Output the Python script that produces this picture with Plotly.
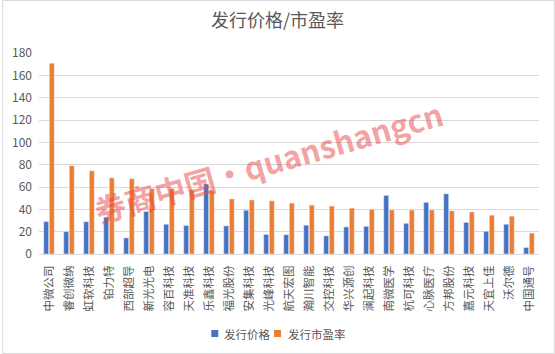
import plotly.graph_objects as go

categories = ["中微公司", "睿创微纳", "虹软科技", "铂力特", "西部超导", "新光光电", "容百科技",
              "天准科技", "乐鑫科技", "福光股份", "安集科技", "光峰科技", "航天宏图", "瀚川智能",
              "交控科技", "华兴源创", "澜起科技", "南微医学", "杭可科技", "心脉医疗", "方邦股份",
              "嘉元科技", "天宜上佳", "沃尔德", "中国通号"]
issue_price = [29.01, 20.0, 28.88, 33.0, 14.43, 38.09, 26.62, 25.5, 62.6, 25.22, 39.19, 17.5,
               17.25, 25.79, 16.23, 24.26, 24.8, 52.45, 27.43, 46.23, 53.88, 28.26, 20.32, 26.68, 5.85]
issue_pe = [170.75, 79.09, 74.48, 68.15, 67.4, 58.58, 58.6, 57.57, 56.6, 49.3, 48.4, 47.6,
            45.6, 43.8, 42.9, 41.1, 40.0, 39.4, 39.3, 39.4, 38.6, 37.6, 34.7, 33.9, 18.7]
y_ticks = [0, 20, 40, 60, 80, 100, 120, 140, 160, 180]
series_names = ["发行价格", "发行市盈率"]
series_colors = ["#4472C4", "#ED7D31"]

FONT = "Microsoft YaHei, Noto Sans CJK SC, sans-serif"
GRAY = "#595959"

fig = go.Figure()
fig.add_trace(go.Bar(x=categories, y=issue_price, name=series_names[0], marker_color=series_colors[0]))
fig.add_trace(go.Bar(x=categories, y=issue_pe, name=series_names[1], marker_color=series_colors[1]))

W, H = 555, 354
L, R, T, B = 37, 16, 53, 100
pw, ph = W - L - R, H - T - B

def px_x(p):
    return (p - L) / pw

def px_y(p):
    return (H - B - p) / ph

shapes = [dict(type="rect", xref="paper", yref="paper",
               x0=px_x(0.5), x1=px_x(W - 0.5), y0=px_y(H - 0.5), y1=px_y(0.5),
               line=dict(color="#d9d9d9", width=1), fillcolor="rgba(0,0,0,0)", layer="below")]
annotations = [dict(text="<b>券商中国•quanshangcn</b>", xref="paper", yref="paper",
                    x=px_x(267), y=px_y(161), showarrow=False, textangle=-16,
                    font=dict(size=31, color="rgba(232,72,72,0.52)", family=FONT))]

# legend (manual, compact like the reference)
leg_sq_x = [210, 273]
leg_txt_x = [221, 285]
for i in range(2):
    shapes.append(dict(type="rect", xref="paper", yref="paper",
                       x0=px_x(leg_sq_x[i]), x1=px_x(leg_sq_x[i] + 7),
                       y0=px_y(337), y1=px_y(330),
                       line=dict(width=0), fillcolor=series_colors[i]))
    annotations.append(dict(text=series_names[i], xref="paper", yref="paper",
                            x=px_x(leg_txt_x[i]), y=px_y(333.5), xanchor="left", yanchor="middle",
                            showarrow=False, font=dict(size=11.5, color=GRAY, family=FONT)))

fig.update_layout(
    width=W, height=H,
    margin=dict(l=L, r=R, t=T, b=B),
    paper_bgcolor="white", plot_bgcolor="white",
    barmode="group", bargap=0.44, bargroupgap=0.12,
    font=dict(family=FONT, color=GRAY, size=11),
    title=dict(text="发行价格/市盈率", x=0.5, xanchor="center", y=1 - 21 / H, yanchor="middle",
               font=dict(size=18, color=GRAY, family=FONT)),
    xaxis=dict(tickangle=-90, tickfont=dict(size=11.5, color=GRAY), showgrid=False,
               showline=True, linecolor="#d9d9d9", ticks="", ticklabelstandoff=6),
    yaxis=dict(range=[0, 180], tickvals=y_ticks, showgrid=True, gridcolor="#d9d9d9",
               gridwidth=1, zeroline=False, showline=False, ticks="", ticklabelstandoff=6,
               tickfont=dict(size=12, color=GRAY)),
    showlegend=False,
    shapes=shapes,
    annotations=annotations,
)

fig.write_html("out.html")
